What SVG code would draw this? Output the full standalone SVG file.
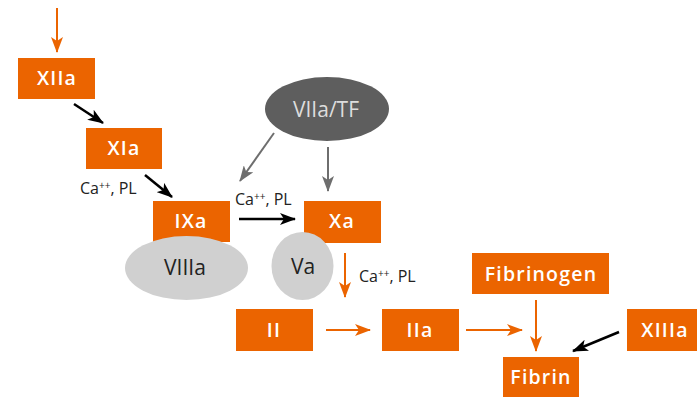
<svg xmlns="http://www.w3.org/2000/svg" width="697" height="397" viewBox="0 0 697 397">
  <style>
    .box { fill: #eb6400; }
    .boxtxt { font-family: "Open Sans", "DejaVu Sans", sans-serif; font-weight: 600; font-size: 19.5px; fill: #ffffff; text-anchor: middle; letter-spacing: 1.2px; }
    .ovtxt { font-family: "Open Sans", "DejaVu Sans", sans-serif; font-size: 21px; fill: #222222; text-anchor: middle; }
    .lbl { font-family: "Open Sans", "DejaVu Sans", sans-serif; font-size: 16px; fill: #222222; }
    .sup { font-size: 10px; }
    .c-or { stroke: #eb6400; stroke-width: 2; fill: none; marker-end: url(#head-or); }
    .c-bk { stroke: #000000; stroke-width: 2.5; fill: none; marker-end: url(#head-bk); }
    .c-gy { stroke: #6e6e6e; stroke-width: 2; fill: none; marker-end: url(#head-gy); }
  </style>
  <defs>
    <marker id="head-or" viewBox="0 0 16 12" refX="15" refY="6" markerWidth="16" markerHeight="12" markerUnits="userSpaceOnUse" orient="auto">
      <path d="M0,0 L16,6 L0,12 L4,6 z" fill="#eb6400"/>
    </marker>
    <marker id="head-bk" viewBox="0 0 16 12" refX="15" refY="6" markerWidth="16" markerHeight="12" markerUnits="userSpaceOnUse" orient="auto">
      <path d="M0,0 L16,6 L0,12 L4,6 z" fill="#000000"/>
    </marker>
    <marker id="head-gy" viewBox="0 0 16 12" refX="15" refY="6" markerWidth="16" markerHeight="12" markerUnits="userSpaceOnUse" orient="auto">
      <path d="M0,0 L16,6 L0,12 L4,6 z" fill="#6e6e6e"/>
    </marker>
  </defs>

  <rect width="697" height="397" fill="#ffffff"/>

  <!-- connectors -->
  <g id="connectors">
    <line class="c-or" x1="57" y1="8" x2="57" y2="52"/>
    <line class="c-bk" x1="74" y1="104" x2="103" y2="123"/>
    <line class="c-bk" x1="145" y1="175" x2="172" y2="197"/>
    <line class="c-gy" x1="274" y1="133" x2="240" y2="181"/>
    <line class="c-gy" x1="328" y1="147" x2="328" y2="191"/>
    <line class="c-bk" x1="239" y1="219" x2="295" y2="219"/>
    <line class="c-or" x1="345" y1="253" x2="345" y2="297"/>
    <line class="c-or" x1="326" y1="330" x2="370" y2="330"/>
    <line class="c-or" x1="466" y1="330" x2="522" y2="330"/>
    <line class="c-or" x1="536" y1="300" x2="536" y2="351"/>
    <line class="c-bk" x1="619" y1="332" x2="573" y2="351"/>
  </g>

  <!-- cofactor labels -->
  <g id="labels">
    <text class="lbl" x="80" y="194">Ca<tspan class="sup" dy="-5">++</tspan><tspan dy="5">, PL</tspan></text>
    <text class="lbl" x="235" y="205">Ca<tspan class="sup" dy="-5">++</tspan><tspan dy="5">, PL</tspan></text>
    <text class="lbl" x="359" y="282">Ca<tspan class="sup" dy="-5">++</tspan><tspan dy="5">, PL</tspan></text>
  </g>

  <g id="n-XIIa">
    <rect class="box" x="18" y="58" width="77" height="41"/>
    <text class="boxtxt" x="57" y="85">XIIa</text>
  </g>
  <g id="n-XIa">
    <rect class="box" x="86" y="128" width="76" height="41"/>
    <text class="boxtxt" x="124" y="155">XIa</text>
  </g>
  <g id="n-VIIaTF">
    <ellipse cx="327" cy="109" rx="62" ry="32" fill="#5e5e5e"/>
    <text class="ovtxt" x="326" y="117" style="fill:#dddddd">VIIa/TF</text>
  </g>
  <g id="n-IXa">
    <rect class="box" x="153" y="201" width="77" height="41"/>
    <text class="boxtxt" x="191" y="228">IXa</text>
  </g>
  <g id="n-VIIIa">
    <ellipse cx="186.5" cy="268" rx="61.5" ry="32" fill="#d0d0d0"/>
    <text class="ovtxt" x="185" y="275">VIIIa</text>
  </g>
  <g id="n-Xa">
    <rect class="box" x="304" y="201" width="77" height="42"/>
    <text class="boxtxt" x="342" y="228">Xa</text>
  </g>
  <g id="n-Va">
    <ellipse cx="302.5" cy="266" rx="31" ry="34" fill="#d0d0d0"/>
    <text class="ovtxt" x="303" y="274">Va</text>
  </g>
  <g id="n-II">
    <rect class="box" x="236" y="309" width="77" height="42"/>
    <text class="boxtxt" x="274" y="337">II</text>
  </g>
  <g id="n-IIa">
    <rect class="box" x="382" y="309" width="77" height="42"/>
    <text class="boxtxt" x="420" y="337">IIa</text>
  </g>
  <g id="n-Fibrinogen">
    <rect class="box" x="472" y="253" width="137" height="41"/>
    <text class="boxtxt" x="541" y="281">Fibrinogen</text>
  </g>
  <g id="n-XIIIa">
    <rect class="box" x="627" y="309" width="77" height="42"/>
    <text class="boxtxt" x="665" y="337">XIIIa</text>
  </g>
  <g id="n-Fibrin">
    <rect class="box" x="503" y="357" width="76" height="40"/>
    <text class="boxtxt" x="541" y="384">Fibrin</text>
  </g>
</svg>
